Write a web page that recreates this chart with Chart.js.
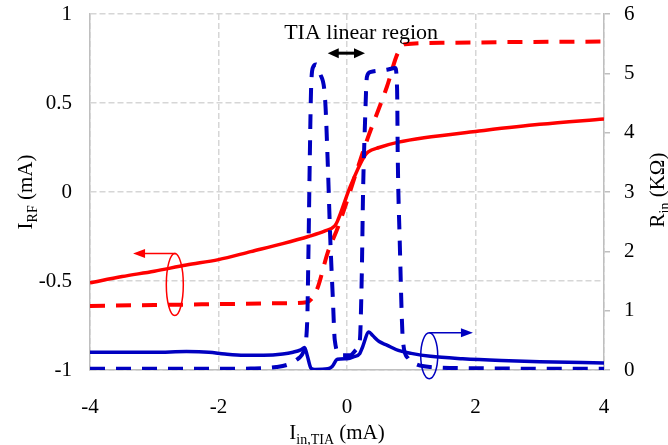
<!DOCTYPE html>
<html>
<head>
<meta charset="utf-8">
<script src="https://cdn.jsdelivr.net/npm/chart.js@4.4.0/dist/chart.umd.min.js"></script>
<style>
  body { margin: 0; background: #fff; }
  #chart-wrap { width: 668px; height: 445px; }
</style>
</head>
<body>
<div id="chart-wrap"><canvas id="irf-chart" width="668" height="445"></canvas></div>
<script>
// I_RF, solid red (left axis, mA)
var rfSolidX = [-4, -3.5, -3, -2.5, -2, -1.5, -1, -0.6, -0.35, -0.19, -0.15, 0.05, 0.27, 0.33, 0.5, 0.8, 1.2, 2, 3, 4]
var rfSolidY = [-0.51, -0.475, -0.445, -0.41, -0.38, -0.335, -0.29, -0.25, -0.22, -0.19, -0.165, 0.03, 0.2, 0.225, 0.25, 0.28, 0.305, 0.34, 0.38, 0.41]

// I_RF, dashed red (left axis, mA)
var rfDashX = [-4, -3, -2, -1, -0.63, -0.47, -0.3, -0.14, 0.31, 0.62, 0.79, 0.9, 1.5, 2.5, 4]
var rfDashY = [-0.64, -0.635, -0.63, -0.625, -0.62, -0.55, -0.34, -0.197, 0.29, 0.59, 0.78, 0.83, 0.838, 0.842, 0.845]

// R_in, solid blue (right axis, KOhm)
var rinSolidX = [-4, -3, -2.5, -2.15, -1.9, -1.6, -1.3, -1, -0.84, -0.72, -0.66, -0.62, -0.56, -0.5, -0.3, -0.23, -0.15, 0, 0.1, 0.2, 0.24, 0.34, 0.4, 0.5, 0.62, 0.8, 1, 1.3, 1.8, 2.4, 3, 4]
var rinSolidY = [0.3, 0.3, 0.31, 0.3, 0.27, 0.25, 0.25, 0.27, 0.3, 0.34, 0.38, 0.25, 0.03, 0.01, 0.02, 0.06, 0.18, 0.19, 0.22, 0.28, 0.38, 0.64, 0.58, 0.48, 0.42, 0.33, 0.28, 0.23, 0.19, 0.16, 0.14, 0.12]

// R_in, dashed blue (right axis, KOhm)
var rinDashX = [-4, -3, -2, -1.5, -1.1, -0.9, -0.75, -0.68, -0.62, -0.6, -0.58, -0.56, -0.53, -0.48, -0.42, -0.34, -0.3, -0.26, -0.22, -0.19, -0.1, 0.05, 0.15, 0.2, 0.23, 0.25, 0.28, 0.31, 0.36, 0.62, 0.75, 0.78, 0.79, 0.82, 0.87, 0.95, 1.03, 1.3, 2, 3, 4]
var rinDashY = [0.02, 0.02, 0.02, 0.025, 0.05, 0.1, 0.2, 0.3, 0.8, 2, 3.5, 4.7, 5.1, 5.15, 5.0, 4.55, 3.5, 2.2, 1.2, 0.5, 0.25, 0.25, 0.35, 0.5, 1.6, 3.0, 4.16, 4.94, 5.02, 5.06, 5.09, 4.72, 3.6, 2.2, 0.5, 0.2, 0.12, 0.05, 0.03, 0.02, 0.02]

var xTicks = [-4, -2, 0, 2, 4]
var leftTicks = [-1, -0.5, 0, 0.5, 1]
var rightTicks = [0, 1, 2, 3, 4, 5, 6]

var RED = "#ff0000"
var BLUE = "#0000c0"
var GRID = "#d6d6d6"
var AXIS = "#bfbfbf"
var SERIF = "'Liberation Serif', 'Times New Roman', serif"

function toPoints(xs, ys) {
    var pts = []
    for (var i = 0; i < xs.length; i++) {
        pts.push({ x: xs[i], y: ys[i] })
    }
    return pts
}

function fixedTicks(list) {
    return function (s) { s.ticks = list.map(function (v) { return { value: v } }) }
}

// keep the label overhang from pushing the chart area around
function noOverhang(s) {
    s.paddingTop = 0
    s.paddingBottom = 0
    s.paddingLeft = 0
    s.paddingRight = 0
}

// draw text made of normal + subscript pieces, centred at (cx, cy)
function drawSubText(ctx, parts, cx, cy, angle, size) {
    var subSize = Math.round(size * 0.65)
    ctx.save()
    ctx.translate(cx, cy)
    ctx.rotate(angle)
    var total = 0
    parts.forEach(function (p) {
        ctx.font = (p.sub ? subSize : size) + "px " + SERIF
        p.w = ctx.measureText(p.t).width
        total += p.w
    })
    var x = -total / 2
    ctx.fillStyle = "#000"
    ctx.textBaseline = "alphabetic"
    ctx.textAlign = "left"
    parts.forEach(function (p) {
        ctx.font = (p.sub ? subSize : size) + "px " + SERIF
        ctx.fillText(p.t, x, size * 0.33 + (p.sub ? size * 0.22 : 0))
        x += p.w
    })
    ctx.restore()
}

function arrowHead(ctx, tx, ty, dir, len, half) {
    ctx.beginPath()
    ctx.moveTo(tx, ty)
    ctx.lineTo(tx - dir * len, ty - half)
    ctx.lineTo(tx - dir * len, ty + half)
    ctx.closePath()
    ctx.fill()
}

// axis titles and the arrow / ellipse notes
const notesPlugin = {
    id: "notes",
    afterDatasetsDraw(chart) {
        var ctx = chart.ctx
        var xs = chart.scales.x
        var yl = chart.scales.y
        var yr = chart.scales.y1

        ctx.save()

        // "TIA linear region" + double arrow
        ctx.fillStyle = "#000"
        ctx.font = "22px " + SERIF
        ctx.textAlign = "center"
        ctx.textBaseline = "middle"
        ctx.fillText("TIA linear region", xs.getPixelForValue(0.22), 33)

        var ax1 = xs.getPixelForValue(-0.3), ax2 = xs.getPixelForValue(0.28), ay = yl.getPixelForValue(0.78)
        ctx.strokeStyle = "#000"
        ctx.lineWidth = 3
        ctx.beginPath()
        ctx.moveTo(ax1 + 8, ay)
        ctx.lineTo(ax2 - 8, ay)
        ctx.stroke()
        arrowHead(ctx, ax1, ay, -1, 11, 5)
        arrowHead(ctx, ax2, ay, 1, 11, 5)

        // red ellipse + arrow to the left axis
        var ex = xs.getPixelForValue(-2.68), ey = yl.getPixelForValue(-0.52)
        ctx.strokeStyle = RED
        ctx.fillStyle = RED
        ctx.lineWidth = 1.5
        ctx.beginPath()
        ctx.ellipse(ex, ey, 8.5, 31, 0, 0, Math.PI * 2)
        ctx.stroke()
        var tipX = xs.getPixelForValue(-3.33)
        ctx.beginPath()
        ctx.moveTo(ex + 1, ey - 31)
        ctx.lineTo(tipX + 10, ey - 31)
        ctx.stroke()
        arrowHead(ctx, tipX, ey - 31, -1, 12, 4.5)

        // blue ellipse + arrow to the right axis
        var bx = xs.getPixelForValue(1.28), by = yr.getPixelForValue(0.24)
        ctx.strokeStyle = BLUE
        ctx.fillStyle = BLUE
        ctx.beginPath()
        ctx.ellipse(bx, by, 8.5, 23, 0, 0, Math.PI * 2)
        ctx.stroke()
        var tip2 = xs.getPixelForValue(1.96)
        ctx.beginPath()
        ctx.moveTo(bx, by - 23)
        ctx.lineTo(tip2 - 10, by - 23)
        ctx.stroke()
        arrowHead(ctx, tip2, by - 23, 1, 12, 4.5)

        ctx.restore()

        // axis titles with subscripts
        drawSubText(ctx, [{ t: "I" }, { t: "RF", sub: true }, { t: " (mA)" }], 25, 192, -Math.PI / 2, 21)
        drawSubText(ctx, [{ t: "R" }, { t: "in", sub: true }, { t: " (K\u03A9)" }], 657, 190, -Math.PI / 2, 21)
        drawSubText(ctx, [{ t: "I" }, { t: "in,TIA", sub: true }, { t: " (mA)" }], 337, 432, 0, 21)
    }
}

const irfData = {
    datasets: [
        {
            label: "I_RF",
            data: toPoints(rfSolidX, rfSolidY),
            borderColor: RED,
            borderWidth: 3.5,
            yAxisID: "y",
            order: 2
        },
        {
            label: "I_RF dashed",
            data: toPoints(rfDashX, rfDashY),
            borderColor: RED,
            borderWidth: 4,
            borderDash: [15, 11],
            yAxisID: "y",
            order: 3
        },
        {
            label: "R_in",
            data: toPoints(rinSolidX, rinSolidY),
            borderColor: BLUE,
            borderWidth: 3.5,
            yAxisID: "y1",
            order: 1
        },
        {
            label: "R_in dashed",
            data: toPoints(rinDashX, rinDashY),
            borderColor: BLUE,
            borderWidth: 4,
            borderDash: [15, 11],
            yAxisID: "y1",
            order: 0
        }
    ]
}

Chart.defaults.font.family = SERIF
Chart.defaults.font.size = 21
Chart.defaults.color = "#000"

const irfConfig = {
    type: "line",
    data: irfData,
    options: {
        responsive: false,
        animation: false,
        devicePixelRatio: 1,
        layout: { padding: { top: 14, left: 0, right: 0, bottom: 0 } },
        elements: {
            point: { radius: 0 },
            line: { tension: 0, cubicInterpolationMode: "monotone", fill: false }
        },
        scales: {
            x: {
                type: "linear",
                min: -4,
                max: 4,
                afterBuildTicks: fixedTicks(xTicks),
                afterFit: function (s) { s.height = 75; noOverhang(s) },
                ticks: { padding: 25, color: "#000", callback: function (v) { return String(v) } },
                grid: { color: GRID, lineWidth: 1.5, drawTicks: false },
                border: { color: AXIS, width: 1.5, dash: [6, 3] }
            },
            y: {
                position: "left",
                min: -1,
                max: 1,
                afterBuildTicks: fixedTicks(leftTicks),
                afterFit: function (s) { s.width = 90; noOverhang(s) },
                ticks: { padding: 18, color: "#000", callback: function (v) { return String(v) } },
                grid: { color: GRID, lineWidth: 1.5, drawTicks: false },
                border: { color: AXIS, width: 1.5, dash: [6, 3] }
            },
            y1: {
                position: "right",
                min: 0,
                max: 6,
                afterBuildTicks: fixedTicks(rightTicks),
                afterFit: function (s) { s.width = 64; noOverhang(s) },
                ticks: { padding: 14, color: "#000", callback: function (v) { return String(v) } },
                grid: { drawOnChartArea: false, drawTicks: true, tickLength: 6, color: AXIS, lineWidth: 1.5 },
                border: { color: AXIS, width: 1.5 }
            }
        },
        plugins: {
            legend: { display: false },
            tooltip: { enabled: false }
        }
    },
    plugins: [notesPlugin]
}

var irfChart = new Chart(document.getElementById("irf-chart"), irfConfig)
</script>
</body>
</html>
